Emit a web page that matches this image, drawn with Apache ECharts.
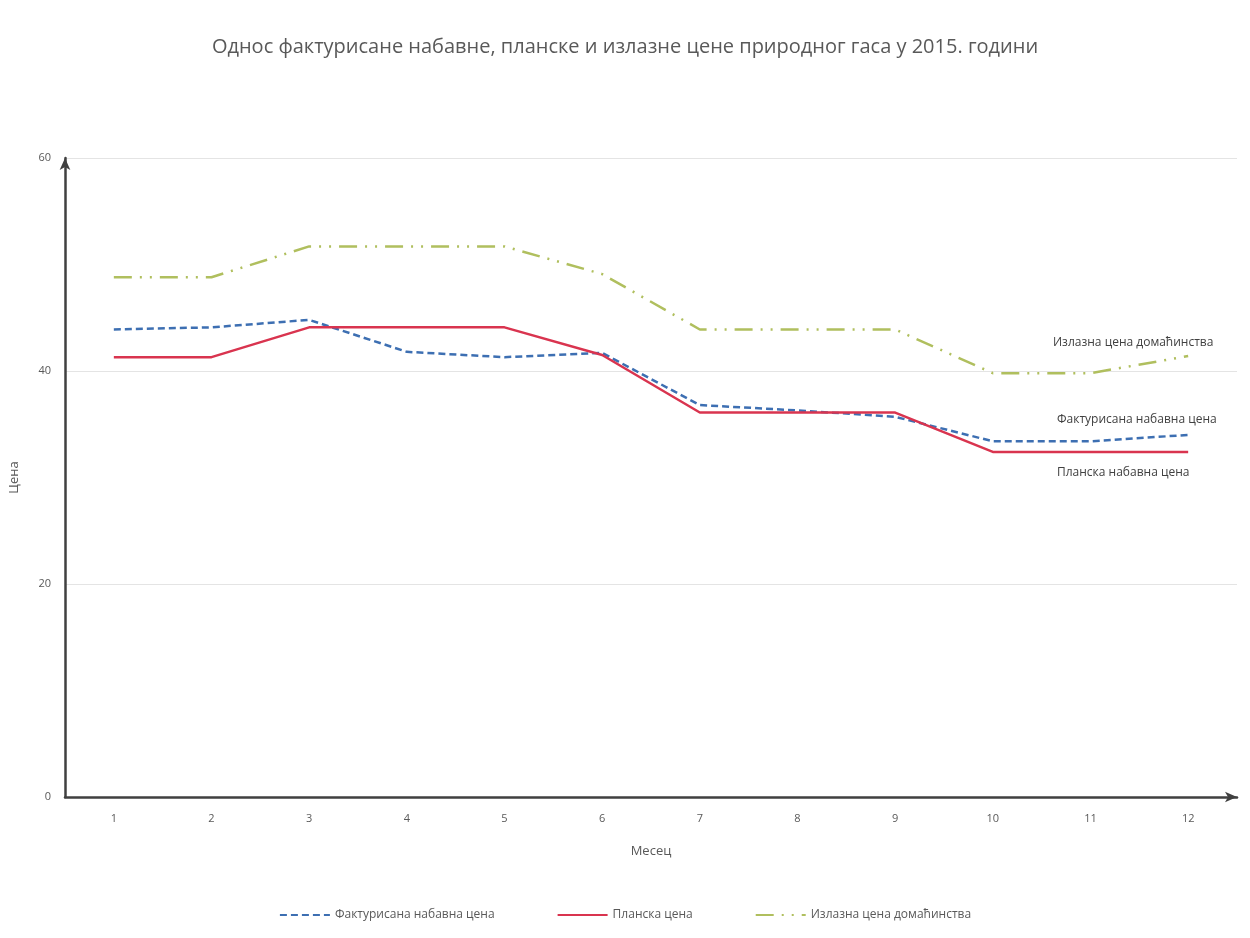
<!DOCTYPE html>
<html><head><meta charset="utf-8">
<script src="https://cdn.jsdelivr.net/npm/echarts@6/dist/echarts.min.js"></script>
<style>html,body{margin:0;padding:0;background:#fff}#c{width:1250px;height:938px}</style>
</head><body><div id="c"></div>
<script>
const months = ['1','2','3','4','5','6','7','8','9','10','11','12'];
const fakturisana = [43.9, 44.1, 44.8, 41.8, 41.3, 41.7, 36.8, 36.3, 35.7, 33.4, 33.4, 34.0];
const planska = [41.3, 41.3, 44.1, 44.1, 44.1, 41.5, 36.1, 36.1, 36.1, 32.4, 32.4, 32.4];
const izlazna = [48.8, 48.8, 51.7, 51.7, 51.7, 49.1, 43.9, 43.9, 43.9, 39.8, 39.8, 41.4];
const names = ['Фактурисана набавна цена', 'Планска цена', 'Излазна цена домаћинства'];
const endNames = ['Фактурисана набавна цена', 'Планска набавна цена', 'Излазна цена домаћинства'];

const chart = echarts.init(document.getElementById('c'));
const font = 'Open Sans';
chart.setOption({
  backgroundColor: '#fff',
  textStyle: {fontFamily: font},
  title: {text: 'Однос фактурисане набавне, планске и излазне цене природног гаса у 2015. години',
    left: 'center', top: 32, textStyle: {fontFamily: font, fontSize: 20, fontWeight: 'normal', color: '#595959'}},
  grid: {left: 59, right: 13, top: 158, bottom: 141},
  legend: {bottom: 12, left: 'center', itemGap: 62, itemWidth: 50, itemHeight: 10,
    itemStyle: {opacity: 0},
    textStyle: {fontSize: 12, color: '#595959', fontFamily: font}},
  xAxis: {type: 'category', data: months, name: 'Месец', nameLocation: 'middle', nameGap: 48,
    nameTextStyle: {fontSize: 13, color: '#595959'},
    axisLine: {lineStyle: {color: '#404040', width: 2.5}, symbol: ['none', 'arrow'], symbolSize: [8, 12]},
    axisTick: {show: false}, axisLabel: {color: '#595959', fontSize: 11, margin: 16}},
  yAxis: {type: 'value', min: 0, max: 60, interval: 20, name: 'Цена', nameLocation: 'middle', nameGap: 44,
    nameTextStyle: {fontSize: 13, color: '#595959'},
    axisLine: {show: true, lineStyle: {color: '#404040', width: 2.5}, symbol: ['none', 'arrow'], symbolSize: [8, 12]},
    axisTick: {show: false}, axisLabel: {color: '#595959', fontSize: 11, margin: 14},
    splitLine: {lineStyle: {color: '#e4e4e4'}}},
  series: [
    {name: names[0], type: 'line', data: fakturisana, symbol: 'none',
      lineStyle: {color: '#3d6fb2', width: 2.5, type: [7, 4]}, itemStyle: {color: '#3d6fb2'}},
    {name: names[1], type: 'line', data: planska, symbol: 'none',
      lineStyle: {color: '#d9344f', width: 2.5}, itemStyle: {color: '#d9344f'}},
    {name: names[2], type: 'line', data: izlazna, symbol: 'none',
      lineStyle: {color: '#b0bf5e', width: 2.5, type: [18, 8, 2, 8, 2, 8]}, itemStyle: {color: '#b0bf5e'}}
  ],
  graphic: [
    {type: 'text', left: 1053, top: 337, style: {text: endNames[2], fill: '#404040', font: '12px "Open Sans"'}},
    {type: 'text', left: 1057, top: 414, style: {text: endNames[0], fill: '#404040', font: '12px "Open Sans"'}},
    {type: 'text', left: 1057, top: 467, style: {text: endNames[1], fill: '#404040', font: '12px "Open Sans"'}}
  ]
});
</script></body></html>
